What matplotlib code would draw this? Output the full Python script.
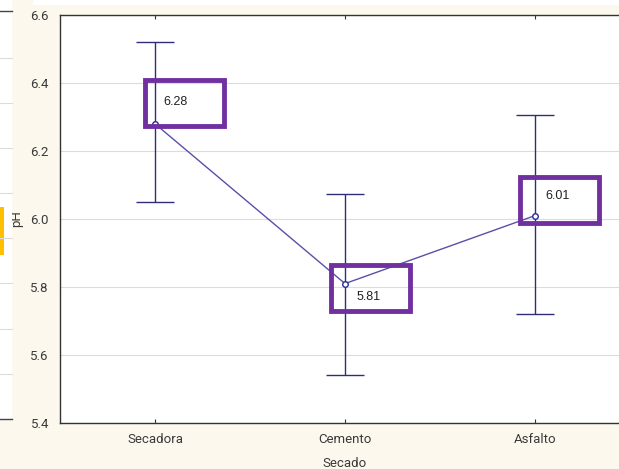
import matplotlib.pyplot as plt
from matplotlib.patches import Rectangle

# --- data ---
categories = ["Secadora", "Cemento", "Asfalto"]
means = [6.28, 5.81, 6.01]
upper = [6.52, 6.073, 6.305]
lower = [6.05, 5.542, 5.72]
labels = ["6.28", "5.81", "6.01"]
yticks = [5.4, 5.6, 5.8, 6.0, 6.2, 6.4, 6.6]

# highlight boxes: (x offset from point, bottom, top) in data units
boxes = [(-0.053, 6.274, 6.409), (-0.074, 5.729, 5.865), (-0.079, 5.988, 6.124)]
box_w = 0.416
text_pos = [(0.045, 6.345), (0.058, 5.77), (0.052, 6.068)]

plt.rcParams['font.family'] = ['Roboto', 'DejaVu Sans']

W, H = 619, 469
fig = plt.figure(figsize=(W / 100, H / 100), dpi=100)
fig.patch.set_facecolor('#fcf8ee')

# white strip at top and left panel of the screenshot
fig.add_artist(Rectangle((33 / W, 1 - 5 / H), 1, 5 / H, transform=fig.transFigure,
                         facecolor='white', edgecolor='none'))
fig.add_artist(Rectangle((0, 1 - 419 / H), 12 / W, 419 / H,
                         transform=fig.transFigure, facecolor='white', edgecolor='none'))
for yy in [11, 419]:
    fig.add_artist(plt.Line2D([0, 12 / W], [1 - yy / H] * 2, transform=fig.transFigure,
                              color='#444444', lw=1))
for yy in [58, 103, 148, 193, 238, 283, 329, 374]:
    fig.add_artist(plt.Line2D([0, 12 / W], [1 - yy / H] * 2, transform=fig.transFigure,
                              color='#dcdcdc', lw=0.8))
fig.add_artist(Rectangle((0, 1 - 255 / H), 4 / W, 48 / H, transform=fig.transFigure,
                         facecolor='#ffc000', edgecolor='none'))

left, right, top, bottom = 60, 630, 15, 423
ax = fig.add_axes([left / W, 1 - bottom / H, (right - left) / W, (bottom - top) / H])
ax.set_facecolor('white')

x = list(range(len(categories)))
yerr = [[m - l for m, l in zip(means, lower)], [u - m for u, m in zip(upper, means)]]
ax.errorbar(x, means, yerr=yerr, fmt='none', ecolor='#2e2e78', elinewidth=1,
            capsize=13.5, capthick=1, zorder=3)
ax.plot(x, means, color='#5a4fa8', lw=1, marker='o', ms=4, mfc='white',
        mec='#2a2a9a', mew=1, zorder=4)

for xi, (dx, b, t), (tx, ty), lab in zip(x, boxes, text_pos, labels):
    ax.add_patch(Rectangle((xi + dx, b), box_w, t - b, facecolor='none',
                           edgecolor='#7030a0', lw=3.5, zorder=5, clip_on=False))
    ax.text(xi + tx, ty, lab, fontsize=9, color='#222222', ha='left', va='center',
            zorder=6, family=['Liberation Sans', 'DejaVu Sans'])

ax.set_xlim(-0.5, 2.5)
ax.set_ylim(5.4, 6.6)
ax.set_yticks(yticks)
ax.set_yticklabels([f"{v:.1f}" for v in yticks])
ax.set_xticks(x)
ax.set_xticklabels(categories)
ax.grid(axis='y', color='#dcdcdc', lw=0.8)
ax.set_axisbelow(True)
ax.tick_params(axis='x', direction='in', length=3, top=True, colors='#333333',
               labelsize=9.5, pad=7, labelcolor='#3a3a3a')
ax.tick_params(axis='y', length=0, labelsize=9.5, pad=8, labelcolor='#3a3a3a')
for s in ['left', 'bottom', 'top']:
    ax.spines[s].set_color('#333333')
    ax.spines[s].set_linewidth(1)
ax.spines['right'].set_visible(False)
ax.set_xlabel("Secado", fontsize=9.5, color='#3a3a3a', labelpad=8)
ax.set_ylabel("pH", fontsize=9.5, color='#3a3a3a', labelpad=5)

fig.savefig("out.png", dpi=100, facecolor=fig.get_facecolor())
